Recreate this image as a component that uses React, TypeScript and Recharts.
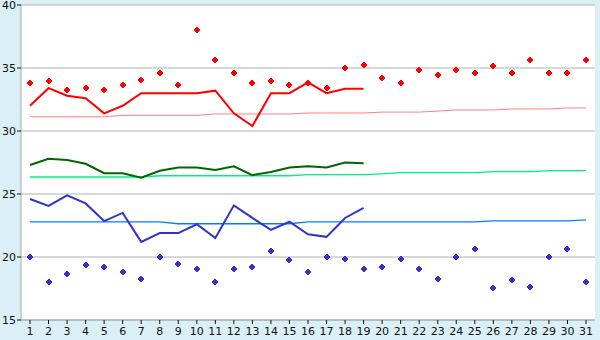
import { ComposedChart, Line, XAxis, YAxis, CartesianGrid } from "recharts";

const days = Array.from({ length: 31 }, (_, i) => String(i + 1));

// daily highs / lows (markers)
const maxTemps = [
  33.8, 34.0, 33.25, 33.4, 33.25, 33.65, 34.05, 34.6, 33.65, 38.0,
  35.6, 34.6, 33.8, 33.95, 33.65, 33.8, 33.4, 35.0, 35.25, 34.2,
  33.8, 34.85, 34.45, 34.85, 34.6, 35.15, 34.6, 35.6, 34.6, 34.6, 35.6,
];
const minTemps = [
  20.0, 18.0, 18.65, 19.35, 19.2, 18.8, 18.25, 20.0, 19.45, 19.05,
  18.0, 19.05, 19.2, 20.5, 19.75, 18.8, 20.0, 19.85, 19.05, 19.2,
  19.85, 19.05, 18.25, 20.0, 20.65, 17.55, 18.15, 17.6, 20.0, 20.65, 18.0,
];

// observed lines (days 1-19)
const highLine = [
  32.0, 33.4, 32.8, 32.6, 31.4, 32.0, 33.0, 33.0, 33.0, 33.0,
  33.2, 31.4, 30.4, 33.0, 33.0, 33.85, 33.0, 33.35, 33.35,
];
const meanLine = [
  27.3, 27.8, 27.7, 27.4, 26.65, 26.65, 26.3, 26.85, 27.1, 27.1,
  26.9, 27.2, 26.5, 26.75, 27.1, 27.2, 27.1, 27.5, 27.45,
];
const lowLine = [
  24.6, 24.05, 24.9, 24.25, 22.85, 23.5, 21.2, 21.9, 21.9, 22.6,
  21.5, 24.1, 23.1, 22.15, 22.8, 21.8, 21.6, 23.1, 23.9,
];

// normals (days 1-31)
const highNormal = [
  31.13, 31.13, 31.13, 31.13, 31.13, 31.24, 31.24, 31.24, 31.24, 31.24,
  31.35, 31.35, 31.35, 31.35, 31.35, 31.43, 31.43, 31.43, 31.43, 31.5,
  31.5, 31.5, 31.58, 31.67, 31.67, 31.67, 31.75, 31.75, 31.75, 31.83, 31.83,
];
const meanNormal = [
  26.35, 26.35, 26.35, 26.35, 26.35, 26.35, 26.35, 26.45, 26.45, 26.45,
  26.45, 26.45, 26.45, 26.45, 26.45, 26.53, 26.53, 26.53, 26.53, 26.6,
  26.69, 26.69, 26.69, 26.69, 26.69, 26.77, 26.77, 26.77, 26.85, 26.85, 26.85,
];
const lowNormal = [
  22.78, 22.78, 22.78, 22.78, 22.78, 22.78, 22.78, 22.78, 22.64, 22.64,
  22.64, 22.64, 22.64, 22.64, 22.64, 22.78, 22.78, 22.78, 22.78, 22.78,
  22.78, 22.78, 22.78, 22.78, 22.78, 22.86, 22.86, 22.86, 22.86, 22.86, 22.94,
];

const yTicks = [15, 20, 25, 30, 35, 40];

const data = days.map((d, i) => ({
  day: d,
  max: maxTemps[i],
  min: minTemps[i],
  high: highLine[i] ?? null,
  mean: meanLine[i] ?? null,
  low: lowLine[i] ?? null,
  highN: highNormal[i],
  meanN: meanNormal[i],
  lowN: lowNormal[i],
}));

function marker(color: string) {
  return (props: any) => {
    const { cx, cy, index } = props;
    if (cx == null || cy == null) return <g key={index} />;
    const x = Math.round(cx) - 1;
    const y = Math.round(cy) - 3;
    return (
      <path
        key={index}
        d={`M${x} ${y}h2v1h1v1h1v2h-1v1h-1v1h-2v-1h-1v-1h-1v-2h1v-1h1z`}
        fill={color}
        shapeRendering="crispEdges"
      />
    );
  };
}

const tickStyle = { fontSize: 11, fill: "#111", fontFamily: "DejaVu Sans" };

export default function App() {
  return (
    <div
      style={{
        position: "absolute",
        left: 0,
        top: 0,
        width: 600,
        height: 340,
        background: "#dbeff7",
      }}
    >
      <ComposedChart
        width={600}
        height={340}
        data={data}
        margin={{ top: 5, right: 5, bottom: 0, left: 0 }}
      >
        <CartesianGrid
          vertical={false}
          stroke="#b0b0b0"
          fill="#ffffff"
          fillOpacity={1}
        />
        <XAxis
          dataKey="day"
          interval={0}
          height={20}
          padding={{ left: 9, right: 9 }}
          stroke="#a8a8a8"
          tickLine={{ stroke: "#111" }}
          tickSize={4}
          tick={tickStyle}
          tickMargin={3}
        />
        <YAxis
          domain={[15, 40]}
          ticks={yTicks}
          width={21}
          stroke="#a8a8a8"
          tickLine={{ stroke: "#111" }}
          tickSize={4}
          tick={tickStyle}
          tickMargin={1}
          interval={0}
        />
        <YAxis
          yAxisId="r"
          orientation="right"
          width={0}
          domain={[15, 40]}
          stroke="#a8a8a8"
          tick={false}
          tickLine={false}
        />
        <Line dataKey="highN" stroke="#ff8080" strokeWidth={1} dot={false} isAnimationActive={false} type="linear" />
        <Line dataKey="meanN" stroke="#00f080" strokeWidth={1.3} dot={false} isAnimationActive={false} type="linear" />
        <Line dataKey="lowN" stroke="#0080ff" strokeWidth={1.3} dot={false} isAnimationActive={false} type="linear" />
        <Line dataKey="high" stroke="#ff0000" strokeWidth={2} dot={false} isAnimationActive={false} type="linear" />
        <Line dataKey="mean" stroke="#006600" strokeWidth={2} dot={false} isAnimationActive={false} type="linear" />
        <Line dataKey="low" stroke="#3333cc" strokeWidth={2} dot={false} isAnimationActive={false} type="linear" />
        <Line dataKey="max" stroke="none" dot={marker("#ff0000")} activeDot={false} isAnimationActive={false} />
        <Line dataKey="min" stroke="none" dot={marker("#3333cc")} activeDot={false} isAnimationActive={false} />
      </ComposedChart>
    </div>
  );
}
